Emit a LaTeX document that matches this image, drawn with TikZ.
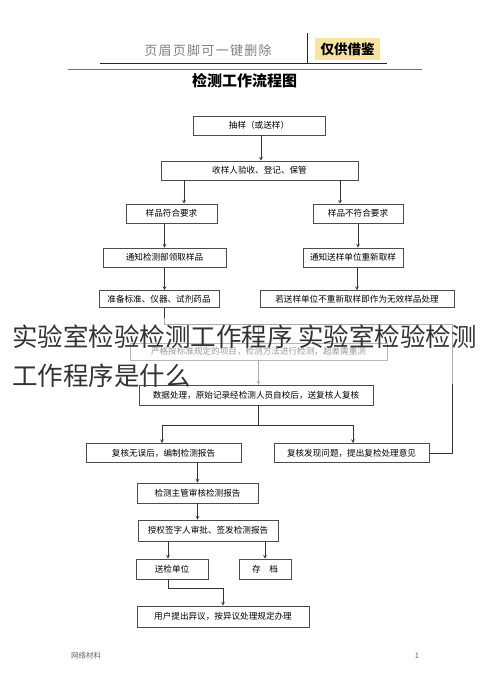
\documentclass[tikz,border=0pt]{standalone}
\usepackage{fontspec}
\setmainfont{Noto Sans CJK SC}
\usepackage{tikz}
\usetikzlibrary{calc,positioning}
\definecolor{tagyellow}{HTML}{F8E3A0}

\begin{document}
\begin{tikzpicture}[x=1pt,y=-1pt,>=stealth,
  box/.style={draw=black!70,line width=0.7pt,minimum height=19pt,inner sep=0pt,font=\fontsize{8.6}{10}\selectfont},
  arr/.style={->,draw=black!80,line width=0.7pt},
  ln/.style={draw=black!80,line width=0.7pt}]
\useasboundingbox (0,0) rectangle (490,698);

\node (hd) at (208,51) [font=\fontsize{13}{13}\selectfont\addfontfeatures{LetterSpace=10},text=black!50] {页眉页脚可一键删除};
\node (tag) at (347.5,49) [fill=tagyellow,minimum width=65pt,minimum height=22pt,inner sep=0pt,font=\bfseries\fontsize{13.5}{14}\selectfont] {仅供借鉴};
\draw[line width=0.9pt,black!85] (100,63) -- (387,63);
\draw[line width=0.9pt,black!85] (307,33) -- (307,63);
\draw[line width=1pt,black!55] (68,70) -- (422,70);
\node (title) at (244.5,81) [font=\bfseries\fontsize{15}{15}\selectfont] {检测工作流程图};

\node (b1) at (259,125.5) [box,minimum width=132pt] {抽样（或送样）};
\node (b2) at (259.5,170.5) [box,minimum width=197pt] {收样人验收、登记、保管};
\node (b3) at (171.5,213.5) [box,minimum width=91pt] {样品符合要求};
\node (b4) at (358,213.5) [box,minimum width=90pt] {样品不符合要求};
\node (b5) at (164.5,257.5) [box,minimum width=123pt] {通知检测部领取样品};
\node (b6) at (353,257.5) [box,minimum width=100pt] {通知送样单位重新取样};
\node (b7) at (159,299) [box,minimum width=120pt,minimum height=17pt] {准备标准、仪器、试剂药品};
\node (b8) at (357,299) [box,minimum width=194pt,minimum height=17pt] {若送样单位不重新取样即作为无效样品处理};
\node (b9) at (258.5,351.5) [box,minimum width=257pt,minimum height=17pt] {严格按标准规定的项目，检测方法进行检测，超差需重测};
\node (b10) at (256,395) [box,minimum width=234pt,minimum height=20pt] {数据处理，原始记录经检测人员自校后，送复核人复核};
\node (b11) at (163.5,453) [box,minimum width=155pt] {复核无误后，编制检测报告};
\node (b12) at (351.5,453) [box,minimum width=155pt] {复核发现问题，提出复检处理意见};
\node (b13) at (197.5,493) [box,minimum width=121pt,minimum height=20pt] {检测主管审核检测报告};
\node (b14) at (208,530.5) [box,minimum width=140pt,minimum height=21pt] {授权签字人审批、签发检测报告};
\node (b15) at (172,569) [box,minimum width=72pt,minimum height=20pt] {送检单位};
\node (b16) at (265,569) [box,minimum width=52pt,minimum height=20pt] {存\hspace{1em}档};
\node (b17) at (223,616.5) [box,minimum width=172pt,minimum height=21pt] {用户提出异议，按异议处理规定办理};

\coordinate (j) at (258.5,324);
\coordinate (r) at (452,324);
\coordinate (s) at (258.5,425);

\draw[arr] ([xshift=2pt]b1.south) -- ([xshift=2pt]b1.south |- b2.north);
\draw[arr] ([xshift=12.5pt]b3.north |- b2.south) -- ([xshift=12.5pt]b3.north);
\draw[arr] ([xshift=-18pt]b4.north |- b2.south) -- ([xshift=-18pt]b4.north);
\draw[arr] (b5.north |- b3.south) -- (b5.north);
\draw[arr] (b4.south) -- (b4.south |- b6.north);
\draw[arr] (b5.south) -- (b5.south |- b7.north);
\draw[arr] (b8.north |- b6.south) -- (b8.north);
\draw[arr] (b5.south |- b7.south) |- (j) -- (b9.north);
\draw[ln] (b12.east) -| (r) -- (j);
\draw[arr] (b9.south) -- (b9.south |- b10.north);
\draw[ln] (b10.south -| s) -- (s);
\draw[arr] (s) -| ([xshift=-1.5pt]b11.north);
\draw[arr] (s) -| ([xshift=1.5pt]b12.north);
\draw[arr] (b13.north |- b11.south) -- (b13.north);
\draw[arr] (b13.south) -- (b13.south |- b14.north);
\draw[arr] ([xshift=-4pt]b15.north |- b14.south) -- ([xshift=-4pt]b15.north);
\draw[arr] (b16.north |- b14.south) -- (b16.north);
\draw[arr] ([xshift=-4pt]b15.south) -- ++(0,9) -| (b17.north);

\fill[white,opacity=0.6] (0,318) rectangle (490,384);
\node (wm1) at (12,337) [anchor=west,inner sep=0pt,text=black!80,font=\fontsize{25.5}{26}\selectfont] {实验室检验检测工作程序 实验室检验检测};
\node (wm2) at (12,376) [anchor=west,inner sep=0pt,text=black!80,font=\fontsize{25.5}{26}\selectfont] {工作程序是什么};

\node (ft) at (86,656) [font=\fontsize{7.5}{8}\selectfont,text=black!60] {网络材料};
\node (pg) at (417,656) [font=\fontsize{7.5}{8}\selectfont,text=black!60] {1};
\end{tikzpicture}
\end{document}
